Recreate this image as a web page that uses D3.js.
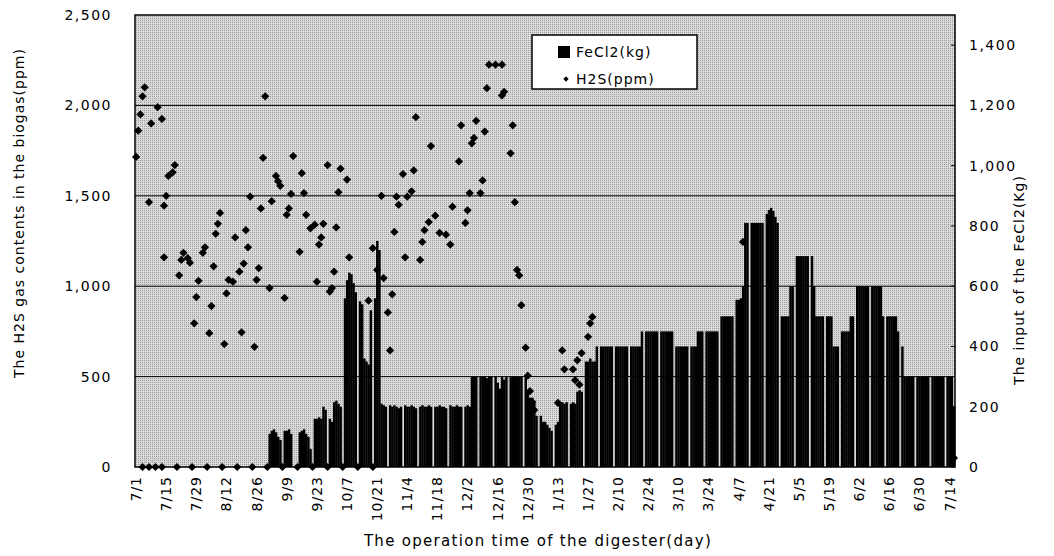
<!DOCTYPE html>
<html>
<head>
<meta charset="utf-8">
<script src="https://cdn.jsdelivr.net/npm/d3@7/dist/d3.min.js"></script>
<style>
body { margin: 0; background: #fff; }
text { font-family: "DejaVu Sans", sans-serif; fill: #000; }
</style>
</head>
<body>
<div id="chart"></div>
<script>
// daily FeCl2 dose (kg), one line per week starting 7/1
var feCl2Kg = [
    0, 0, 0, 0, 0, 0, 0,
    0, 0, 0, 0, 0, 0, 0,
    0, 0, 0, 0, 0, 0, 0,
    0, 0, 0, 0, 0, 0, 0,
    0, 0, 0, 0, 0, 0, 0,
    0, 0, 0, 0, 0, 0, 0,
    0, 0, 0, 0, 0, 0, 0,
    0, 0, 0, 0, 0, 0, 0,
    0, 0, 0, 0, 0, 0, 110,
    120, 125, 115, 100, 90, 0, 120,
    120, 125, 110, 0, 0, 0, 115,
    120, 125, 110, 100, 60, 0, 160,
    160, 165, 160, 200, 190, 0, 160,
    150, 215, 220, 210, 200, 0, 560,
    620, 645, 640, 610, 580, 0, 550,
    540, 360, 350, 340, 520, 0, 560,
    750, 720, 210, 205, 200, 0, 205,
    200, 205, 200, 195, 200, 0, 205,
    200, 200, 205, 200, 195, 0, 200,
    205, 200, 200, 205, 200, 0, 200,
    200, 205, 200, 200, 195, 0, 205,
    200, 200, 205, 200, 200, 0, 200,
    205, 200, 300, 300, 300, 0, 300,
    300, 300, 295, 300, 300, 0, 300,
    280, 260, 300, 290, 300, 0, 300,
    300, 300, 300, 300, 300, 0, 300,
    250, 230, 230, 220, 170, 0, 170,
    150, 150, 140, 130, 120, 0, 140,
    150, 210, 215, 210, 215, 0, 210,
    215, 210, 250, 255, 250, 0, 350,
    350, 360, 350, 350, 400, 0, 400,
    400, 400, 400, 400, 400, 0, 400,
    400, 400, 400, 400, 400, 0, 400,
    400, 400, 400, 400, 450, 0, 450,
    450, 450, 450, 450, 450, 0, 450,
    450, 450, 450, 450, 450, 0, 400,
    400, 400, 400, 400, 400, 0, 400,
    400, 400, 450, 450, 450, 0, 450,
    450, 450, 450, 450, 450, 0, 500,
    500, 500, 500, 500, 500, 0, 555,
    555, 560, 600, 810, 810, 0, 810,
    810, 810, 810, 810, 810, 0, 840,
    853, 860, 850, 830, 810, 0, 500,
    500, 500, 500, 600, 600, 0, 700,
    700, 700, 700, 700, 700, 0, 700,
    600, 500, 500, 500, 500, 0, 500,
    500, 500, 400, 400, 400, 0, 450,
    450, 450, 450, 500, 500, 0, 600,
    600, 600, 600, 600, 600, 0, 600,
    600, 600, 600, 600, 500, 0, 500,
    500, 500, 500, 500, 450, 0, 400,
    300, 300, 300, 300, 300, 0, 300,
    300, 300, 300, 300, 300, 0, 300,
    300, 300, 300, 300, 300, 0, 300,
    300, 300, 200
]

// H2S measurements: day index (0 = 7/1) and ppm
var h2sDay = [
    0, 1, 2, 3, 4, 6, 7, 10, 12, 13, 14, 13, 15, 17, 18, 20, 21, 22, 24, 25,
    27, 28, 29, 31, 32, 34, 35, 36, 37, 38, 39, 41, 42, 43, 45, 46, 48, 49, 50, 51,
    52, 53, 55, 56, 57, 58, 59, 60, 62, 63, 65, 66, 67, 69, 70, 71, 72, 73, 76, 77,
    78, 79, 81, 83, 84, 85, 86, 87, 89, 90, 91, 92, 93, 94, 95, 98, 99, 108, 110, 112,
    114, 115, 117, 118, 119, 120, 121, 122, 124, 125, 126, 128, 129, 130, 132, 133, 134, 136, 137, 139,
    141, 144, 146, 147, 150, 151, 153, 154, 155, 156, 157, 158, 160, 161, 162, 163, 164, 167, 170, 170,
    171, 174, 175, 176, 177, 178, 179, 181, 182, 183, 184, 185, 196, 198, 199, 203, 204, 205, 206, 207,
    210, 211, 212, 282,
    3, 6, 9, 12, 19, 26, 33, 40, 47, 54, 61, 68, 75, 82, 89, 96, 103, 110, 380
]
var h2sPpm = [
    1715, 1860, 1950, 2050, 2100, 1465, 1900, 1990, 1925, 1160, 1500, 1445, 1610, 1630, 1670, 1060, 1145, 1185, 1155, 1130,
    795, 940, 1030, 1185, 1215, 740, 890, 1110, 1290, 1345, 1405, 680, 960, 1035, 1025, 1270, 1080, 745, 1125, 1310,
    1215, 1495, 665, 1035, 1100, 1430, 1710, 2050, 990, 1470, 1610, 1580, 1555, 935, 1395, 1430, 1510, 1720, 1190, 1625,
    1515, 1395, 1320, 1340, 1025, 1230, 1270, 1345, 1670, 970, 990, 1080, 1325, 1520, 1650, 1590, 1160, 920, 1210, 1090,
    1500, 1045, 855, 645, 955, 1300, 1495, 1450, 1620, 1160, 1495, 1525, 1640, 1935, 1145, 1245, 1310, 1355, 1775, 1390,
    1295, 1285, 1230, 1440, 1690, 1890, 1350, 1420, 1515, 1790, 1820, 1915, 1515, 1585, 1855, 2095, 2225, 2225, 2225, 2055,
    2075, 1735, 1890, 1465, 1090, 1060, 895, 660, 505, 420, 360, 315, 355, 645, 540, 540, 480, 590, 455, 630,
    720, 795, 830, 1245,
    0, 0, 0, 0, 0, 0, 0, 0, 0, 0, 0, 0, 0, 0, 0, 0, 0, 0, 50
]

var leftTicks = [0, 500, 1000, 1500, 2000, 2500]
var rightTicks = [0, 200, 400, 600, 800, 1000, 1200, 1400]
var xTickDays = [0, 14, 28, 42, 56, 70, 84, 98, 112, 126, 140, 154, 168, 182,
    196, 210, 224, 238, 252, 266, 280, 294, 308, 322, 336, 350, 364, 378]
var xTickLabels = ["7/1", "7/15", "7/29", "8/12", "8/26", "9/9", "9/23", "10/7", "10/21", "11/4",
    "11/18", "12/2", "12/16", "12/30", "1/13", "1/27", "2/10", "2/24", "3/10", "3/24",
    "4/7", "4/21", "5/5", "5/19", "6/2", "6/16", "6/30", "7/14"]

var width = 1054, height = 556
var plot = { left: 135, right: 955, top: 15, bottom: 467 }

let svg = d3.select("#chart").append("svg")
    .attr("width", width)
    .attr("height", height)

let x = d3.scaleBand()
    .domain(d3.range(feCl2Kg.length))
    .range([plot.left, plot.right])
    .padding(0)
let yLeft = d3.scaleLinear().domain([0, 2500]).range([plot.bottom, plot.top])
let yRight = d3.scaleLinear().domain([0, 1500]).range([plot.bottom, plot.top])

// stippled grey plot background
let pat = svg.append("defs").append("pattern")
    .attr("id", "stipple")
    .attr("width", 2).attr("height", 2)
    .attr("patternUnits", "userSpaceOnUse")
pat.append("rect").attr("width", 2).attr("height", 2).attr("fill", "#dadada")
pat.append("rect").attr("width", 1).attr("height", 1).attr("fill", "#9c9c9c")

svg.append("rect")
    .attr("x", plot.left).attr("y", plot.top)
    .attr("width", plot.right - plot.left)
    .attr("height", plot.bottom - plot.top)
    .attr("fill", "url(#stipple)")

// gridlines
svg.append("g").selectAll("line")
    .data(leftTicks.filter(d => d > 0 && d < 2500))
    .enter().append("line")
    .attr("x1", plot.left).attr("x2", plot.right)
    .attr("y1", d => yLeft(d)).attr("y2", d => yLeft(d))
    .attr("stroke", "#000").attr("stroke-width", 1)

// FeCl2 bars
svg.append("g").selectAll("rect")
    .data(feCl2Kg.map((v, i) => ({ day: i, v: v })).filter(d => d.v > 0))
    .enter().append("rect")
    .attr("x", d => x(d.day))
    .attr("width", x.bandwidth() + 0.3)
    .attr("y", d => yRight(d.v))
    .attr("height", d => plot.bottom - yRight(d.v))
    .attr("fill", "#000")

// H2S diamonds
let diamond = d3.symbol().type(d3.symbolSquare).size(34)
svg.append("g").selectAll("path")
    .data(h2sDay.map((d, i) => ({ day: d, v: h2sPpm[i] })))
    .enter().append("path")
    .attr("d", diamond)
    .attr("transform", d => "translate(" + (x(d.day) + x.bandwidth() / 2) + "," + yLeft(d.v) + ") rotate(45)")
    .attr("fill", "#000")

// plot border
svg.append("rect")
    .attr("x", plot.left).attr("y", plot.top)
    .attr("width", plot.right - plot.left)
    .attr("height", plot.bottom - plot.top)
    .attr("fill", "none")
    .attr("stroke", "#000")
    .attr("stroke-width", 1.5)

// left axis
let axL = svg.append("g")
    .attr("transform", "translate(" + plot.left + ",0)")
    .call(d3.axisLeft(yLeft).tickValues(leftTicks).tickFormat(d3.format(",")).tickSize(0).tickPadding(23))
axL.select(".domain").remove()
axL.selectAll("text").attr("font-size", 14).style("letter-spacing", "1.5px").style("font-family", "DejaVu Sans")

// right axis
let axR = svg.append("g")
    .attr("transform", "translate(" + plot.right + ",0)")
    .call(d3.axisRight(yRight).tickValues(rightTicks).tickFormat(d3.format(",")).tickSize(0).tickPadding(14))
axR.select(".domain").remove()
axR.selectAll("text").attr("font-size", 14).style("letter-spacing", "1.5px").style("font-family", "DejaVu Sans")
svg.append("g").selectAll("line")
    .data(rightTicks)
    .enter().append("line")
    .attr("x1", plot.right - 4).attr("x2", plot.right)
    .attr("y1", d => yRight(d)).attr("y2", d => yRight(d))
    .attr("stroke", "#000")

// bottom axis
let axB = svg.append("g")
    .attr("transform", "translate(0," + plot.bottom + ")")
    .call(d3.axisBottom(x).tickValues(xTickDays).tickFormat((d, i) => xTickLabels[i]).tickSize(0))
axB.select(".domain").remove()
axB.selectAll("text")
    .attr("transform", "rotate(-90)")
    .attr("x", -9).attr("y", 0).attr("dy", "0.35em")
    .attr("text-anchor", "end")
    .attr("font-size", 14)
    .style("letter-spacing", "1px")
    .style("font-family", "DejaVu Sans")

// axis titles
svg.append("text")
    .attr("x", 538).attr("y", 546)
    .attr("text-anchor", "middle")
    .attr("font-size", 15)
    .style("letter-spacing", "1.3px")
    .text("The operation time of the digester(day)")

svg.append("text")
    .attr("transform", "translate(24,213) rotate(-90)")
    .attr("text-anchor", "middle")
    .attr("font-size", 14)
    .style("letter-spacing", "1px")
    .text("The H2S gas contents in the biogas(ppm)")

svg.append("text")
    .attr("transform", "translate(1024,280) rotate(-90)")
    .attr("text-anchor", "middle")
    .attr("font-size", 14)
    .style("letter-spacing", "1px")
    .text("The input of the FeCl2(Kg)")

// legend
let lg = svg.append("g").attr("transform", "translate(532,35)")
lg.append("rect")
    .attr("width", 165).attr("height", 54)
    .attr("fill", "#fff").attr("stroke", "#000").attr("stroke-width", 1.5)
lg.append("rect")
    .attr("x", 26).attr("y", 11).attr("width", 12).attr("height", 12)
    .attr("fill", "#000")
lg.append("text")
    .attr("x", 44).attr("y", 22)
    .attr("font-size", 14).style("letter-spacing", "1px")
    .text("FeCl2(kg)")
lg.append("path")
    .attr("d", d3.symbol().type(d3.symbolSquare).size(14))
    .attr("transform", "translate(34,44) rotate(45)")
    .attr("fill", "#000")
lg.append("text")
    .attr("x", 44).attr("y", 49)
    .attr("font-size", 14).style("letter-spacing", "1px")
    .text("H2S(ppm)")
</script>
</body>
</html>
